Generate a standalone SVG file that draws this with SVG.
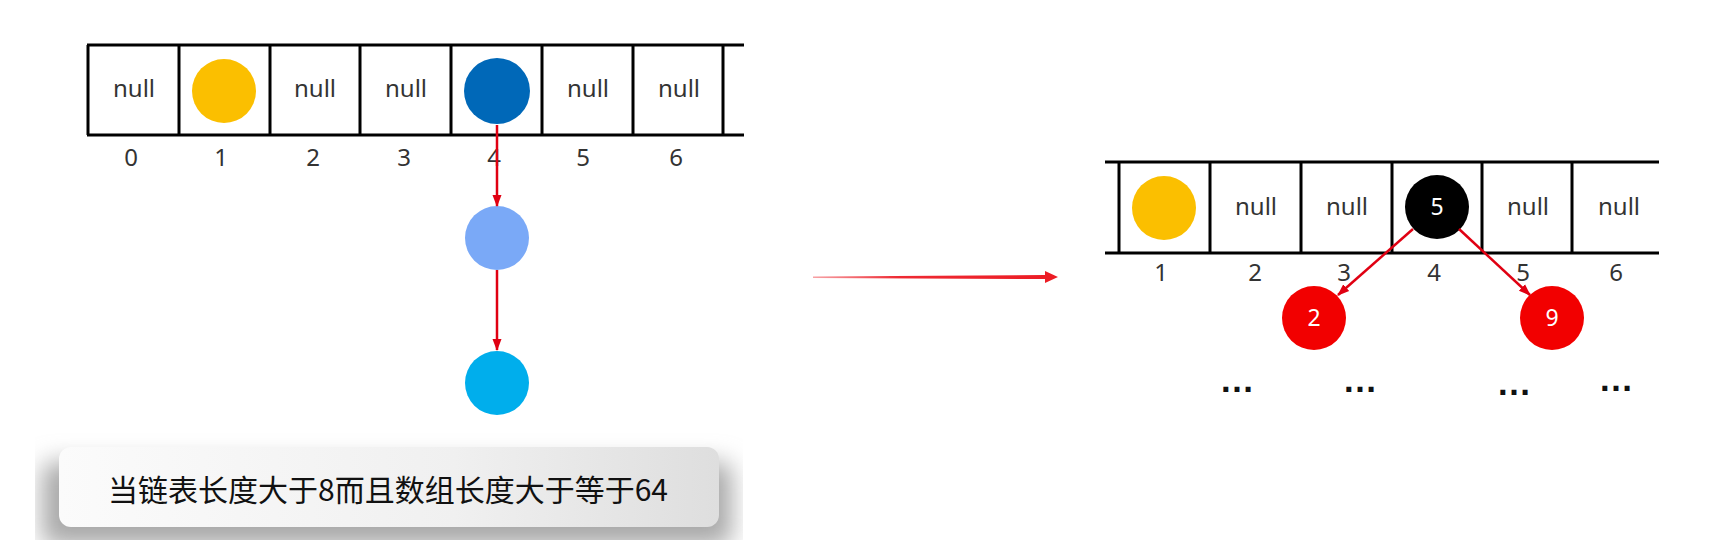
<svg xmlns="http://www.w3.org/2000/svg" width="1711" height="559" viewBox="0 0 1711 559">
<style>
.cell{fill:none;stroke:#000;stroke-width:3}
.null{font-family:"Noto Sans","Open Sans",sans-serif;font-size:24px;fill:#333;text-anchor:middle}
.idx{font-family:"Noto Sans","Open Sans",sans-serif;font-size:24px;fill:#333;text-anchor:middle}
.ctext{font-family:"Noto Sans","Open Sans",sans-serif;font-size:23px;fill:#fff;text-anchor:middle}
.dots{font-family:"Liberation Sans",Arial,sans-serif;font-size:35px;font-weight:bold;fill:#111;text-anchor:middle}
.red{stroke:#e00012;stroke-width:2.5;fill:none}
.cap{font-family:"Noto Sans CJK SC","Noto Sans",sans-serif;font-size:30px;font-weight:400;fill:#111;text-anchor:middle}
</style>
<defs>
<marker id="ah" markerWidth="12" markerHeight="12" refX="11" refY="6" orient="auto" markerUnits="userSpaceOnUse">
<path d="M0,1.5 L12,6 L0,10.5 Z" fill="#e00012"/>
</marker>
<linearGradient id="arrowGrad" x1="0" y1="0" x2="1" y2="0">
<stop offset="0" stop-color="#f7a3a6"/>
<stop offset="0.35" stop-color="#ee2a33"/>
<stop offset="1" stop-color="#ec1c24"/>
</linearGradient>
<linearGradient id="boxGrad" x1="0" y1="0" x2="1" y2="0">
<stop offset="0" stop-color="#fbfbfb"/>
<stop offset="0.6" stop-color="#f0f0f0"/>
<stop offset="1" stop-color="#dedede"/>
</linearGradient>
<clipPath id="shClip"><rect x="35" y="418" width="708" height="122"/></clipPath>
<filter id="blur" x="-20%" y="-50%" width="140%" height="200%"><feGaussianBlur stdDeviation="12"/></filter>
</defs>
<rect width="1711" height="559" fill="#fff"/>

<!-- left array -->
<g id="left-array">
<path class="cell" d="M87,45 H744 M87,135 H744 M88,45 V135 M179,45 V135 M270,45 V135 M360,45 V135 M451,45 V135 M542,45 V135 M633,45 V135 M723,45 V135"/>
<text class="null" x="134" y="97">null</text>
<text class="null" x="315" y="97">null</text>
<text class="null" x="406" y="97">null</text>
<text class="null" x="588" y="97">null</text>
<text class="null" x="679" y="97">null</text>
<text class="idx" x="131" y="166">0</text>
<text class="idx" x="221" y="166">1</text>
<text class="idx" x="313" y="166">2</text>
<text class="idx" x="404" y="166">3</text>
<text class="idx" x="494" y="166">4</text>
<text class="idx" x="583" y="166">5</text>
<text class="idx" x="676" y="166">6</text>
</g>
<g id="left-node1"><circle cx="224" cy="91" r="32" fill="#fbbf00"/></g>
<g id="left-node4"><circle cx="497" cy="91" r="33" fill="#0068b8"/></g>
<g id="list-node2"><circle cx="497" cy="238" r="32" fill="#7aa9f7"/></g>
<g id="list-node3"><circle cx="497" cy="383" r="32" fill="#00aeec"/></g>

<!-- caption -->
<g id="caption">
<g clip-path="url(#shClip)">
<rect x="42" y="462" width="690" height="84" rx="12" fill="#a9a9a9" filter="url(#blur)"/>
</g>
<rect x="59" y="447" width="660" height="80" rx="12" fill="url(#boxGrad)"/>
<text class="cap" x="388" y="501">当链表长度大于8而且数组长度大于等于64</text>
</g>

<!-- right array -->
<g id="right-array">
<path class="cell" d="M1105,162 H1659 M1105,253 H1659 M1119,162 V253 M1210,162 V253 M1301,162 V253 M1392,162 V253 M1482,162 V253 M1572,162 V253"/>
<text class="null" x="1256" y="215">null</text>
<text class="null" x="1347" y="215">null</text>
<text class="null" x="1528" y="215">null</text>
<text class="null" x="1619" y="215">null</text>
<text class="idx" x="1161" y="281">1</text>
<text class="idx" x="1255" y="281">2</text>
<text class="idx" x="1344" y="281">3</text>
<text class="idx" x="1434" y="281">4</text>
<text class="idx" x="1523" y="281">5</text>
<text class="idx" x="1616" y="281">6</text>
</g>
<g id="right-node1"><circle cx="1164" cy="208" r="32" fill="#fbbf00"/></g>
<g id="tree-root"><circle cx="1437" cy="207" r="32" fill="#000"/><text class="ctext" x="1437" y="215">5</text></g>
<g id="tree-left"><circle cx="1314" cy="318" r="32" fill="#f20000"/><text class="ctext" x="1314" y="326">2</text></g>
<g id="tree-right"><circle cx="1552" cy="318" r="32" fill="#f20000"/><text class="ctext" x="1552" y="326">9</text></g>
<g id="ellipses">
<text class="dots" x="1237" y="392">…</text>
<text class="dots" x="1360" y="392">…</text>
<text class="dots" x="1514" y="395">…</text>
<text class="dots" x="1616" y="391">…</text>
</g>

<!-- connectors -->
<g id="connectors">
<line class="red" x1="497" y1="125" x2="497" y2="206" marker-end="url(#ah)"/>
<line class="red" x1="497" y1="270" x2="497" y2="350" marker-end="url(#ah)"/>
<line class="red" x1="1413" y1="229" x2="1338" y2="295" marker-end="url(#ah)"/>
<line class="red" x1="1459" y1="229" x2="1530" y2="295" marker-end="url(#ah)"/>
<path d="M813,276.5 L1045,275 L1045,271 L1058,277 L1045,283 L1045,279 L813,278 Z" fill="url(#arrowGrad)"/>
</g>
</svg>
